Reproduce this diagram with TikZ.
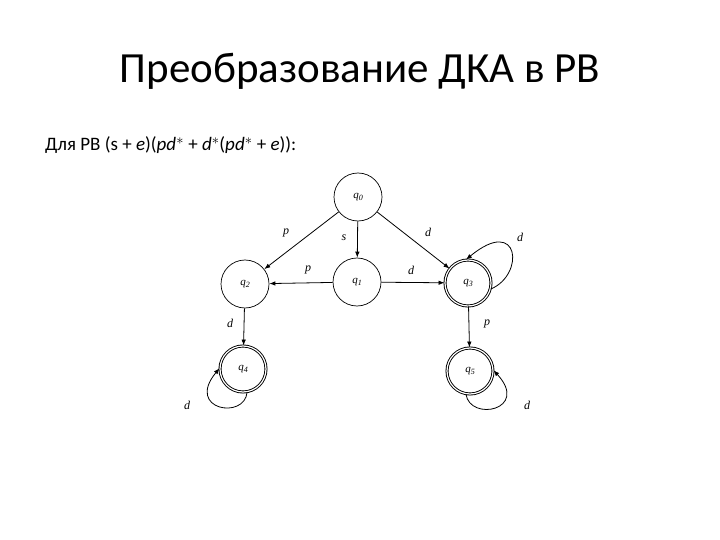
\documentclass[tikz,border=0pt]{standalone}
\usepackage{fontspec}
\setmainfont{Carlito}
\newfontfamily\tms{Liberation Serif}
\usetikzlibrary{arrows.meta}
\newcommand{\qs}[1]{\textit{q}\raisebox{-0.35ex}{\fontsize{8}{8}\selectfont\itshape #1}}
\begin{document}
\begin{tikzpicture}[x=1pt,y=-1pt,
  st/.style={circle,draw,line width=0.7pt,minimum size=48pt,inner sep=0pt,font=\tms\fontsize{11}{11}\selectfont},
  acc/.style={st,double,line width=0.9pt,double distance=1.2pt,minimum size=46pt},
  ar/.style={-{Latex[length=6pt,width=4.5pt]},line width=0.8pt},
  lb/.style={font=\tms\itshape\fontsize{12}{12}\selectfont,inner sep=0pt}]
\useasboundingbox (0,0) rectangle (720,540);
\node (title) at (360,71) {\fontsize{43}{46}\selectfont Преобразование ДКА в РВ};
\node[anchor=west,inner sep=0pt] (sub) at (45,145) {\fontsize{19}{22}\selectfont Для РВ (s + \textit{e})(\textit{pd}$^{\ast}$ + \textit{d}$^{\ast}$(\textit{pd}$^{\ast}$ + \textit{e})):};
\node[st] (q0) at (358,197) {\qs{0}};
\node[st] (q1) at (357,282) {\qs{1}};
\node[st] (q2) at (245,284) {\qs{2}};
\node[acc] (q3) at (468,283) {\qs{3}};
\node[acc] (q4) at (243,369) {\qs{4}};
\node[acc] (q5) at (470,371) {\qs{5}};
\draw[ar] (q0) -- (q2);
\draw[ar] (q0) -- (q1);
\draw[ar] (q0) -- (q3);
\draw[ar] (q1) -- (q2);
\draw[ar] (q1) -- (q3);
\draw[ar] (q2) -- (q4);
\draw[ar] (q3) -- (q5);
\draw[ar] (q3.-15) .. controls (525,275) and (520,215) .. (q3.95);
\draw[ar] (q4.-80) .. controls (245,420) and (185,410) .. (q4.178);
\draw[ar] (q5.-100) .. controls (470,422) and (530,410) .. (q5.2);
\node[lb] (l1) at (286,233) {p};
\node[lb] (l2) at (344,238) {s};
\node[lb] (l3) at (428,232) {d};
\node[lb] (l4) at (520,237) {d};
\node[lb] (l5) at (308,270) {p};
\node[lb] (l6) at (411,270) {d};
\node[lb] (l7) at (230,323) {d};
\node[lb] (l8) at (487,324) {p};
\node[lb] (l9) at (187,405) {d};
\node[lb] (l10) at (527,405) {d};
\end{tikzpicture}
\end{document}
